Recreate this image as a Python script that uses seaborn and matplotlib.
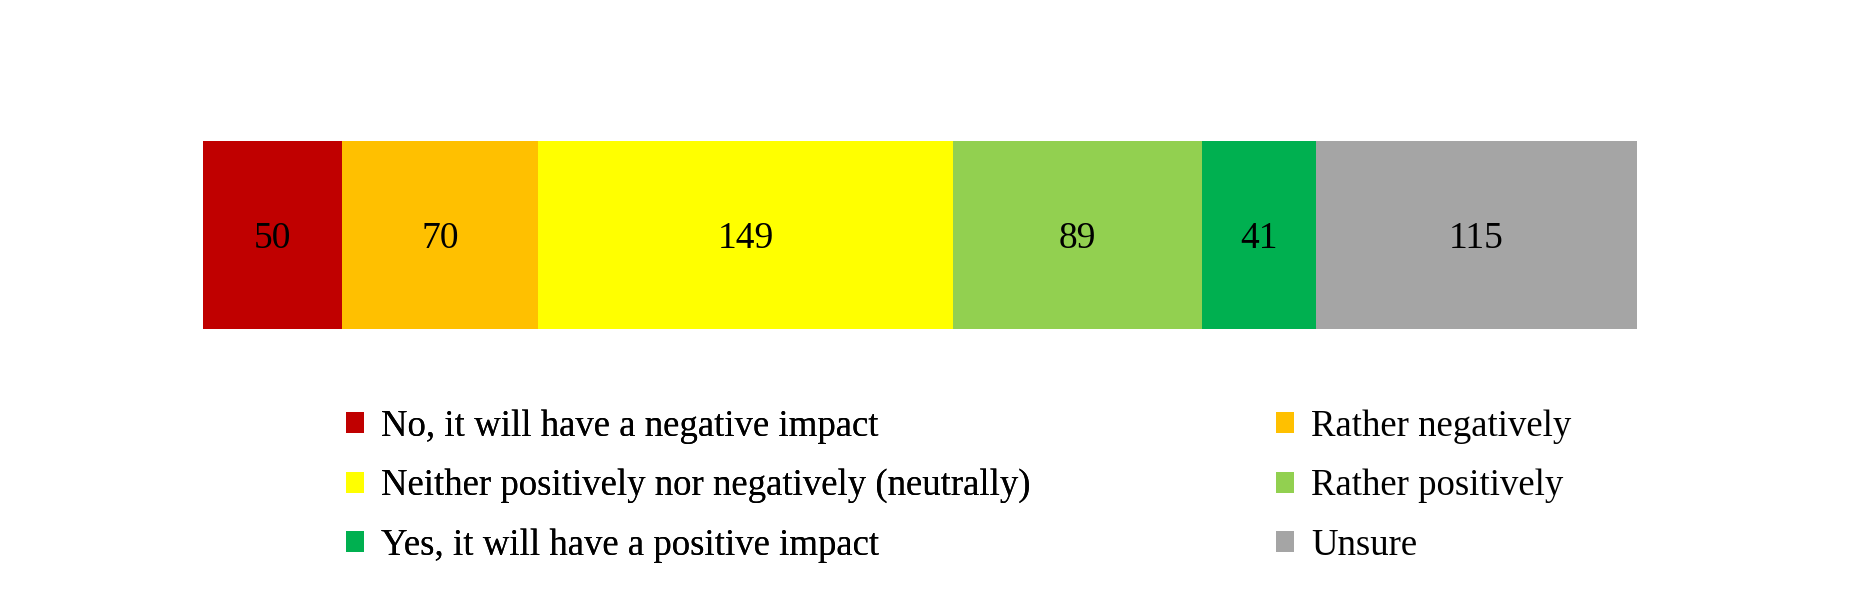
import matplotlib
matplotlib.use("Agg")
import matplotlib.pyplot as plt
from matplotlib.patches import Patch
import numpy as np
import pandas as pd
import seaborn as sns

# --- Data ---
categories = ["No, it will have a negative impact", "Rather negatively",
              "Neither positively nor negatively (neutrally)", "Rather positively",
              "Yes, it will have a positive impact", "Unsure"]
counts = [50, 70, 149, 89, 41, 115]
colors = ["#C00000", "#FFC000", "#FFFF00", "#92D050", "#00B050", "#A5A5A5"]

sns.set_theme(style="white")
plt.rcParams['font.family'] = ['Liberation Serif', 'DejaVu Serif']
plt.rcParams['text.color'] = 'black'

fig = plt.figure(figsize=(18.76, 6.03), dpi=100)
ax = fig.add_axes([203 / 1876, 1 - 329 / 603, (1637 - 203) / 1876, 188 / 603])

# stacked bar: draw cumulative totals from the largest down so each segment shows
cum = np.cumsum(counts)
for i in reversed(range(len(counts))):
    df = pd.DataFrame({"row": [""], "total": [cum[i]]})
    sns.barplot(data=df, x="total", y="row", orient="h", color=colors[i],
                saturation=1, width=1.0, ax=ax, edgecolor="none", linewidth=0)

starts = cum - np.array(counts)
for s, c in zip(starts, counts):
    ax.text(s + c / 2, 0, str(c), ha="center", va="center_baseline", fontsize=27, color="black")

ax.set_xlim(0, cum[-1])
ax.set_ylim(0.5, -0.5)
ax.axis("off")

# --- Legend: two columns ---
def make_legend(idx, x_px):
    handles = [Patch(facecolor=colors[i], edgecolor="none", label=categories[i]) for i in idx]
    leg = fig.legend(handles=handles, loc="center left",
                     bbox_to_anchor=(x_px / 1876, 1 - 486 / 603),
                     frameon=False, fontsize=26.5, borderpad=0, borderaxespad=0,
                     handlelength=0.5, handleheight=0.5, handletextpad=0.46,
                     labelspacing=0.68, labelcolor="black")
    return leg

leg1 = make_legend([0, 2, 4], 346)
fig.add_artist(leg1)
make_legend([1, 3, 5], 1276)

fig.savefig("out.png", dpi=100, facecolor="white")
